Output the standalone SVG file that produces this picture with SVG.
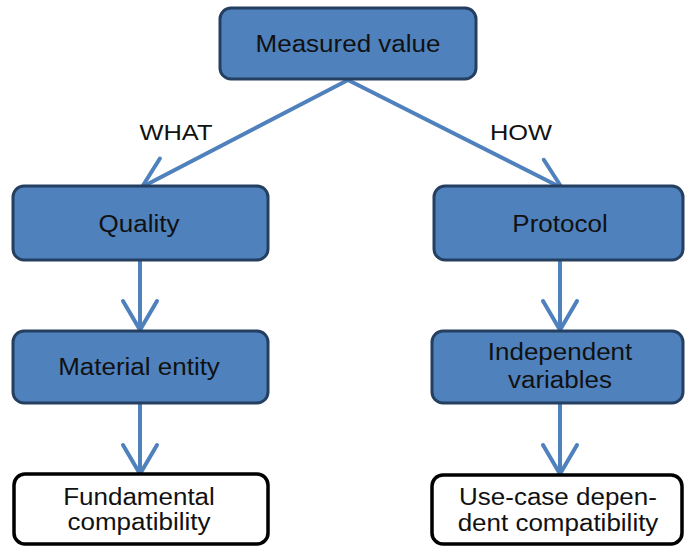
<svg xmlns="http://www.w3.org/2000/svg" width="685" height="546" viewBox="0 0 685 546">
<style>
.blue{fill:#4f81bd;stroke:#243f60;stroke-width:3}
.white{fill:#ffffff;stroke:#000000;stroke-width:3.5}
.t{font-family:"Liberation Sans",Arial,sans-serif;font-size:23px;fill:#111111;text-anchor:middle}
.lbl{font-family:"Liberation Sans",Arial,sans-serif;font-size:22.5px;fill:#111111;text-anchor:middle}
.c{stroke:#4f81bd;stroke-width:4;fill:none;stroke-linecap:round}
</style>
<defs>
<marker id="ah" markerUnits="userSpaceOnUse" markerWidth="40" markerHeight="40" viewBox="-35 -20 40 40" refX="0" refY="0" orient="auto">
<path d="M-29,-17 L0,0 L-29,17" fill="none" stroke="#4f81bd" stroke-width="4" stroke-linecap="round" stroke-linejoin="round"/>
</marker>
</defs>
<rect width="685" height="546" fill="#ffffff"/>
<g id="connectors">
<line class="c" x1="348" y1="80" x2="142" y2="187" marker-end="url(#ah)"/>
<line class="c" x1="348" y1="80" x2="562" y2="188" marker-end="url(#ah)"/>
<line class="c" x1="140" y1="260" x2="140" y2="330" marker-end="url(#ah)"/>
<line class="c" x1="140" y1="403" x2="140" y2="474" marker-end="url(#ah)"/>
<line class="c" x1="560" y1="260" x2="560" y2="330" marker-end="url(#ah)"/>
<line class="c" x1="560" y1="403" x2="560" y2="474" marker-end="url(#ah)"/>
<text class="lbl" transform="translate(176,140) scale(1.13,1)">WHAT</text>
<text class="lbl" transform="translate(521,140) scale(1.13,1)">HOW</text>
</g>
<g id="measured">
<rect class="blue" x="220" y="8" width="256" height="71" rx="11"/>
<text class="t" transform="translate(348,52) scale(1.13,1)">Measured value</text>
</g>
<g id="quality">
<rect class="blue" x="13" y="186" width="255" height="74" rx="11"/>
<text class="t" transform="translate(139,232) scale(1.13,1)">Quality</text>
</g>
<g id="protocol">
<rect class="blue" x="434" y="186" width="249" height="74" rx="11"/>
<text class="t" transform="translate(560,232) scale(1.13,1)">Protocol</text>
</g>
<g id="material">
<rect class="blue" x="13" y="331" width="255" height="72" rx="11"/>
<text class="t" transform="translate(139,375) scale(1.13,1)">Material entity</text>
</g>
<g id="independent">
<rect class="blue" x="432" y="331" width="251" height="72" rx="11"/>
<text class="t" transform="translate(560,360) scale(1.13,1)">Independent</text>
<text class="t" transform="translate(560,388) scale(1.13,1)">variables</text>
</g>
<g id="fundamental">
<rect class="white" x="14" y="474" width="254" height="70" rx="11"/>
<text class="t" transform="translate(139,505) scale(1.13,1)">Fundamental</text>
<text class="t" transform="translate(139,530) scale(1.13,1)">compatibility</text>
</g>
<g id="usecase">
<rect class="white" x="432" y="475" width="250" height="69" rx="11"/>
<text class="t" transform="translate(558,505) scale(1.13,1)">Use-case depen-</text>
<text class="t" transform="translate(558,531) scale(1.13,1)">dent compatibility</text>
</g>
</svg>
